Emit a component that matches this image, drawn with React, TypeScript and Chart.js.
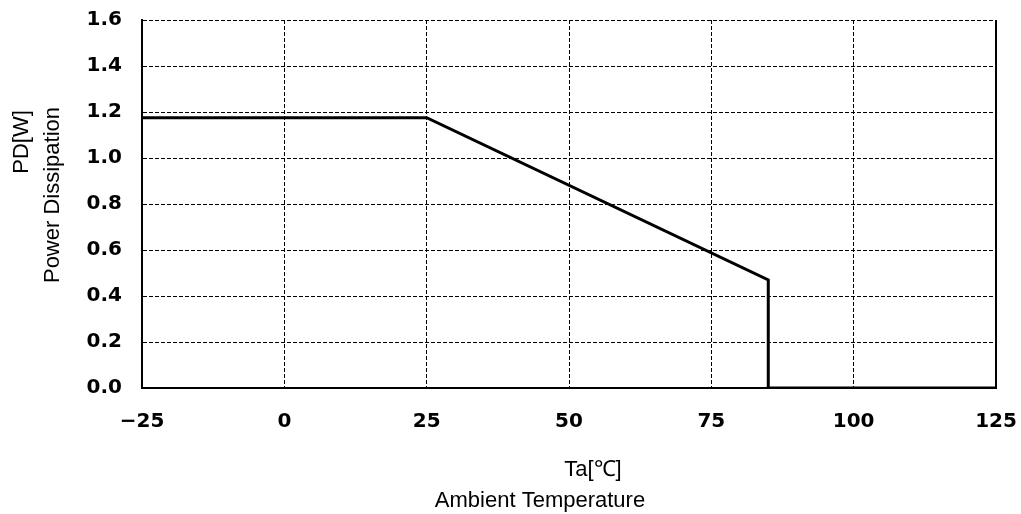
import React, { useEffect, useRef } from "react";
import { Chart, registerables } from "chart.js";

Chart.register(...registerables);

const temps = [-25, 25, 85, 85, 125];
const power = [1.175, 1.175, 0.47, 0, 0];
const xTitle = "Ta[℃]";
const xSubTitle = "Ambient Temperature";
const yTitle = "PD[W]";
const ySubTitle = "Power Dissipation";

const tickFont = { family: "'DejaVu Sans', sans-serif", size: 20, weight: "bold" as const };
const titleFont = "22px 'Liberation Sans', Arial, sans-serif";

const titlePlugin = {
  id: "titles",
  afterDraw(chart: any) {
    const { ctx, chartArea } = chart;
    ctx.save();
    ctx.strokeStyle = "#000";
    ctx.lineWidth = 2;
    ctx.beginPath();
    ctx.moveTo(chartArea.right, chartArea.top);
    ctx.lineTo(chartArea.right, chartArea.bottom);
    ctx.stroke();

    ctx.fillStyle = "#000";
    ctx.font = titleFont;
    ctx.textAlign = "center";
    ctx.textBaseline = "middle";
    ctx.fillText(xTitle, chartArea.left + 451, chartArea.bottom + 82);
    ctx.fillText(xSubTitle, chartArea.left + 398, chartArea.bottom + 113);

    ctx.translate(22, chartArea.top + 122);
    ctx.rotate(-Math.PI / 2);
    ctx.fillText(yTitle, 0, 0);
    ctx.restore();
    ctx.save();
    ctx.fillStyle = "#000";
    ctx.font = titleFont;
    ctx.textAlign = "center";
    ctx.textBaseline = "middle";
    ctx.translate(53, chartArea.top + 175);
    ctx.rotate(-Math.PI / 2);
    ctx.fillText(ySubTitle, 0, 0);
    ctx.restore();
  },
};

export default function App() {
  const ref = useRef<HTMLCanvasElement | null>(null);
  useEffect(() => {
    if (!ref.current) return;
    const chart = new Chart(ref.current, {
      type: "line",
      data: {
        datasets: [
          {
            data: temps.map((t, i) => ({ x: t, y: power[i] })),
            borderColor: "#000",
            borderWidth: 3,
            pointRadius: 0,
            tension: 0,
            fill: false,
          },
        ],
      },
      options: {
        animation: false,
        responsive: true,
        maintainAspectRatio: false,
        layout: { padding: { left: 0, top: 20, right: 25, bottom: 0 } },
        plugins: { legend: { display: false }, tooltip: { enabled: false } },
        scales: {
          x: {
            type: "linear",
            min: -25,
            max: 125,
            ticks: {
              stepSize: 25,
              color: "#000",
              font: tickFont,
              padding: 22,
              maxRotation: 0,
              callback: (v: any) => String(v).replace("-", "−"),
            },
            grid: { color: "#000", lineWidth: 1, drawTicks: false },
            border: { display: true, color: "#000", width: 2, dash: [4, 2] },
            afterFit: (s: any) => {
              s.height = 126;
              s.paddingLeft = 0;
              s.paddingRight = 0;
            },
          },
          y: {
            min: 0,
            max: 1.6,
            ticks: {
              stepSize: 0.2,
              color: "#000",
              font: tickFont,
              padding: 20,
              callback: (v: any) => Number(v).toFixed(1),
            },
            grid: { color: "#000", lineWidth: 1, drawTicks: false },
            border: { display: true, color: "#000", width: 2, dash: [4, 2] },
            afterFit: (s: any) => {
              s.width = 142;
              s.paddingTop = 0;
              s.paddingBottom = 0;
            },
          },
        },
      },
      plugins: [titlePlugin],
    });
    return () => chart.destroy();
  }, []);
  return (
    <div style={{ position: "fixed", left: 0, top: 0, width: 1021, height: 514, background: "#fff" }}>
      <canvas ref={ref} />
    </div>
  );
}
